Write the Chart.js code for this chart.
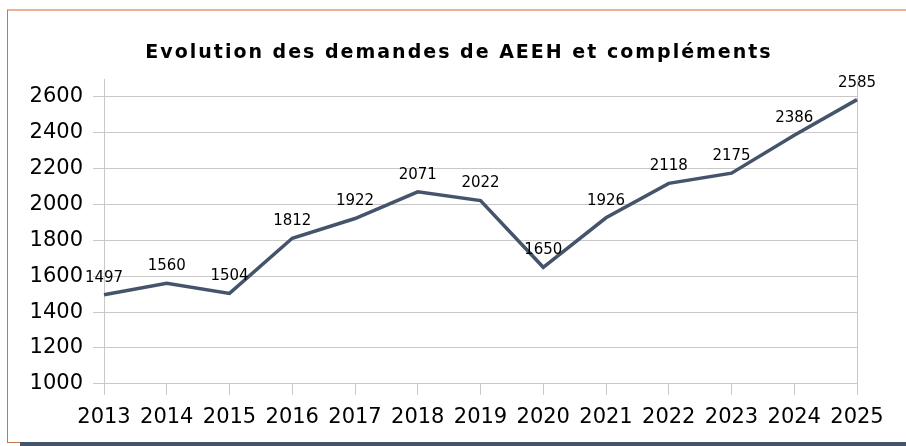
<!DOCTYPE html>
<html>
<head>
<meta charset="utf-8">
<title>Evolution des demandes de AEEH</title>
<script src="https://cdn.jsdelivr.net/npm/chart.js@4/dist/chart.umd.min.js"></script>
<style>
    html, body { margin: 0; padding: 0; background: #fff; }
    body { width: 906px; height: 446px; position: relative; overflow: hidden; }
    #frame {
        position: absolute; left: 7px; top: 9px; width: 905px; height: 431px;
        border-top: 2px solid #E9B496; border-left: 1px solid #C7754F; border-bottom: 1px solid #C7754F;
        box-sizing: content-box;
    }
    #shadow { position: absolute; left: 20px; top: 442px; width: 886px; height: 4px; background: #44546A; }
    #wrap { position: absolute; left: 0; top: 0; width: 906px; height: 446px; }
</style>
</head>
<body>
<div id="frame"></div>
<div id="shadow"></div>
<div id="wrap"><canvas id="aeehChart"></canvas></div>
<script>
    // Demandes AEEH et compléments par année
    var years = ["2013", "2014", "2015", "2016", "2017", "2018", "2019", "2020", "2021", "2022", "2023", "2024", "2025"];
    var demandes = [1497, 1560, 1504, 1812, 1922, 2071, 2022, 1650, 1926, 2118, 2175, 2386, 2585];
    var yMin = 1000, yMax = 2700, yStep = 100, yLabelStep = 200;
    var chartTitle = 'Evolution des demandes de AEEH et compléments';

    var gridGray = '#C8C8C8';
    var fontFamily = '"DejaVu Sans", Verdana, sans-serif';

    // writes each value just above its point
    var valueLabels = {
        id: 'valueLabels',
        afterDatasetsDraw: function (chart) {
            var ctx = chart.ctx;
            var meta = chart.getDatasetMeta(0);
            ctx.save();
            ctx.font = '15px ' + fontFamily;
            ctx.fillStyle = '#000';
            ctx.textAlign = 'center';
            ctx.textBaseline = 'middle';
            meta.data.forEach(function (pt, i) {
                ctx.fillText(String(chart.data.datasets[0].data[i]), pt.x, pt.y - 17);
            });
            ctx.restore();
        }
    };

    // spaced-out bold title, centred over the frame
    var spacedTitle = {
        id: 'spacedTitle',
        afterDraw: function (chart) {
            var ctx = chart.ctx;
            ctx.save();
            ctx.font = 'bold 19px ' + fontFamily;
            ctx.letterSpacing = '2px';
            ctx.fillStyle = '#000';
            ctx.textAlign = 'center';
            ctx.textBaseline = 'middle';
            ctx.fillText(chartTitle, 459, 53);
            ctx.restore();
        }
    };

    var ctx = document.getElementById("aeehChart");
    var aeehChart = new Chart(ctx, {
        type: 'line',
        data: {
            labels: years,
            datasets: [{
                data: demandes,
                borderColor: '#44546A',
                borderWidth: 3.5,
                pointRadius: 0,
                tension: 0,
                fill: false
            }]
        },
        options: {
            responsive: true,
            maintainAspectRatio: false,
            animation: false,
            layout: { padding: { left: 0, right: 49, top: 79, bottom: 6 } },
            plugins: {
                legend: { display: false },
                tooltip: { enabled: false },
                title: { display: false }
            },
            scales: {
                x: {
                    offset: false,
                    grid: {
                        color: function (c) { return c.index === years.length - 1 ? gridGray : 'transparent'; },
                        tickColor: gridGray,
                        tickLength: 11
                    },
                    border: { display: true, color: gridGray },
                    ticks: {
                        color: '#000',
                        padding: 10,
                        maxRotation: 0,
                        autoSkip: false,
                        font: { family: fontFamily, size: 21 }
                    }
                },
                y: {
                    min: yMin,
                    max: yMax,
                    afterFit: function (scale) { scale.width = 104; },
                    grid: { color: gridGray, tickColor: gridGray, tickLength: 11 },
                    border: { display: true, color: gridGray },
                    ticks: {
                        stepSize: yStep,
                        color: '#000',
                        padding: 10,
                        font: { family: fontFamily, size: 21 },
                        callback: function (v) {
                            return (v - yMin) % yLabelStep === 0 && v < yMax ? v : '';
                        }
                    }
                }
            }
        },
        plugins: [valueLabels, spacedTitle]
    });
</script>
</body>
</html>
